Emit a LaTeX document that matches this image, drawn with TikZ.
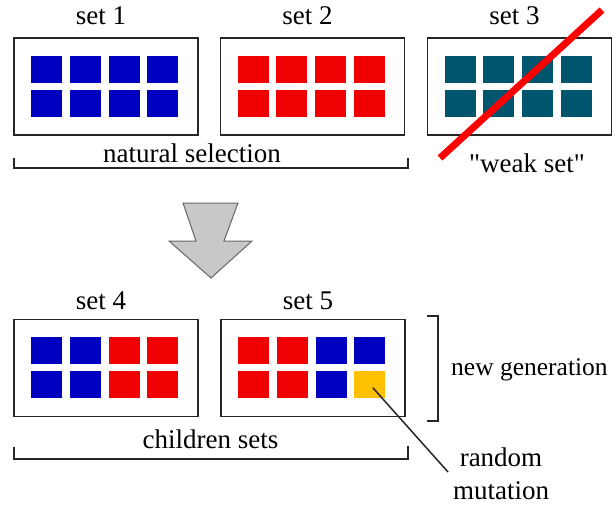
\documentclass[tikz,border=0pt]{standalone}
\usepackage{fontspec}
\setmainfont{Liberation Serif}
\newfontfamily\labelfont{Liberation Serif}
\usetikzlibrary{positioning}

\definecolor{cellblue}{RGB}{0,0,192}
\definecolor{cellred}{RGB}{240,0,0}
\definecolor{cellteal}{RGB}{0,85,110}
\definecolor{cellgold}{RGB}{255,192,0}
\definecolor{arrowgrey}{RGB}{200,200,200}

\tikzset{
  setbox/.style={draw=black!85, line width=1.5pt, minimum width=184pt, minimum height=97pt, inner sep=0pt},
  cell/.style={minimum width=31pt, minimum height=27pt, inner sep=0pt},
  lbl/.style={font=\labelfont\fontsize{27}{30}\selectfont, inner sep=0pt, anchor=base},
  bracket/.style={draw=black!85, line width=1.5pt},
}

\newcommand{\setcells}[2]{%
  \foreach \c [count=\i from 0] in {#2} {
    \pgfmathtruncatemacro\col{mod(\i,4)}
    \pgfmathtruncatemacro\row{\i/4}
    \node[cell, fill=\c] (#1-\i) at ([shift={(33.5+38.7*\col, 32+34*\row)}]#1.north west) {};
  }%
}

\begin{document}
\begin{tikzpicture}[x=1pt, y=-1pt]
    \useasboundingbox (0,0) rectangle (616,506);

    \node[setbox] (s1) at (106,86.5) {};
    \node[setbox] (s2) at (312.5,86.5) {};
    \node[setbox] (s3) at (519.5,86.5) {};
    \node[setbox] (s4) at (106,368) {};
    \node[setbox] (s5) at (313,368) {};

    \setcells{s1}{cellblue,cellblue,cellblue,cellblue,cellblue,cellblue,cellblue,cellblue}
    \setcells{s2}{cellred,cellred,cellred,cellred,cellred,cellred,cellred,cellred}
    \setcells{s3}{cellteal,cellteal,cellteal,cellteal,cellteal,cellteal,cellteal,cellteal}
    \setcells{s4}{cellblue,cellblue,cellred,cellred,cellblue,cellblue,cellred,cellred}
    \setcells{s5}{cellred,cellred,cellblue,cellblue,cellred,cellred,cellblue,cellgold}

    \node[lbl] at (101,24) {set 1};
    \node[lbl] at (307.5,24) {set 2};
    \node[lbl] at (514.5,24) {set 3};
    \node[lbl] at (101,309) {set 4};
    \node[lbl] at (308,309) {set 5};

    \draw[red, line width=7pt] (440,158) -- (602,10);
    \node[lbl] at (527,172) {"weak set"};

    \coordinate (ns-a) at (14,158);
    \coordinate (ns-b) at (14,168);
    \coordinate (ns-c) at (408,168);
    \coordinate (ns-d) at (408,158);
    \draw[bracket] (ns-a) -- (ns-b) -- (ns-c) -- (ns-d);
    \node[lbl] at (192,162) {natural selection};

    \draw[draw=black!60, fill=arrowgrey, line width=1pt]
        (183,203) -- (238,203) -- (224,241) -- (252,241) -- (211,278)
        -- (169,241) -- (196,241) -- cycle;

    \coordinate (cs-a) at (14,447);
    \coordinate (cs-b) at (14,459);
    \coordinate (cs-c) at (408,459);
    \coordinate (cs-d) at (408,446);
    \draw[bracket] (cs-a) -- (cs-b) -- (cs-c) -- (cs-d);
    \node[lbl] at (210.5,448) {children sets};

    \coordinate (ng-a) at (427,316);
    \coordinate (ng-b) at (438,316);
    \coordinate (ng-c) at (438,421);
    \coordinate (ng-d) at (427,421);
    \draw[bracket] (ng-a) -- (ng-b) -- (ng-c) -- (ng-d);
    \node[lbl, anchor=base west, font=\labelfont\fontsize{25.5}{30}\selectfont] at (451,375) {new generation};

    \coordinate (mut) at (448,472);
    \draw[black!85, line width=1.5pt] ([shift={(3,3)}]s5-7.center) -- (mut);
    \node[lbl] at (501,466) {random};
    \node[lbl] at (501,499) {mutation};
\end{tikzpicture}
\end{document}
